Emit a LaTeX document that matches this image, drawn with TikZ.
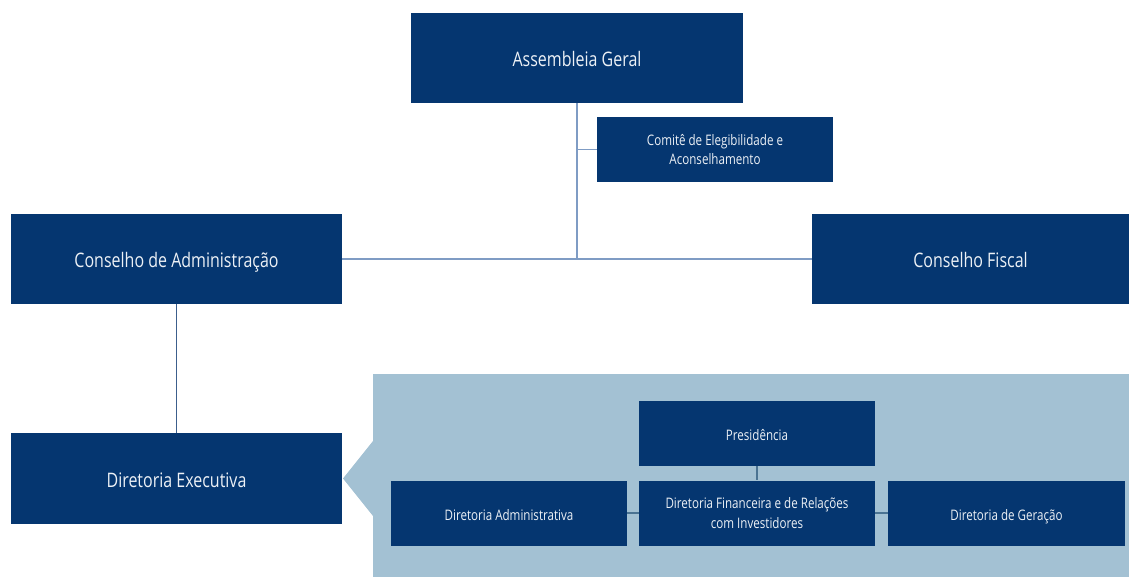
\documentclass[tikz,border=0pt]{standalone}
\usepackage{fontspec}
\newfontfamily\lblfont[FakeStretch=0.8]{Open Sans}
\definecolor{boxblue}{HTML}{053670}
\definecolor{panelblue}{HTML}{A3C1D3}
\definecolor{linelight}{HTML}{7F9CC4}
\definecolor{linedark}{HTML}{3C5E8C}
\definecolor{linepanel}{HTML}{4A7392}
\definecolor{txtcol}{HTML}{EDF1F6}
\begin{document}
\begin{tikzpicture}[x=1pt,y=-1pt,
  box/.style={fill=boxblue, draw=none, text=txtcol, align=center, inner sep=0pt,
    font=\lblfont\fontsize{20}{24}\selectfont, text height=18pt, text depth=0pt},
  bigbox/.style={box, minimum width=331pt, minimum height=90pt},
  smallbox/.style={box, minimum width=236pt, minimum height=65pt,
    font=\lblfont\fontsize{14.5}{19.5}\selectfont, text height=14pt, text depth=0pt},
  twoline/.style={text height=, text depth=},
  conn/.style={draw=linelight, line width=1.2pt},
  conndark/.style={draw=linedark, line width=1.2pt},
  connpanel/.style={draw=linepanel, line width=1.2pt}]
\useasboundingbox (0,0) rectangle (1129,577);
\fill[white] (0,0) rectangle (1129,577);
% panel with pointer
\fill[panelblue] (373,374) -- (1129,374) -- (1129,577) -- (373,577) -- (373,516) -- (343,478.5) -- (373,441) -- cycle;
\node[inner sep=0pt, minimum width=0pt] (panel) at (751,475.5) {};
% top nodes
\node[bigbox, minimum width=332pt] (ag) at (577,58) {Assembleia Geral};
\node[smallbox, twoline] (ce) at (715,149.5) {Comitê de Elegibilidade e\\Aconselhamento};
\node[bigbox] (ca) at (176.5,259) {Conselho de Administração};
\node[bigbox, minimum width=317pt] (cf) at (970.5,259) {Conselho Fiscal};
\node[bigbox, minimum height=91pt] (de) at (176.5,478.5) {Diretoria Executiva};
% panel nodes
\node[smallbox] (pr) at (757,433.5) {Presidência};
\node[smallbox] (da) at (509,513) {Diretoria Administrativa};
\node[smallbox, twoline] (df) at (757,513) {Diretoria Financeira e de Relações\\com Investidores};
\node[smallbox, minimum width=237pt] (dg) at (1006.5,513) {Diretoria de Geração};
% connectors
\draw[conn] (ca.east) -- (cf.west);
\draw[conn] (ag.south) -- (ag.south |- ca.east);
\draw[conn] (ag.south |- ce.west) -- (ce.west);
\draw[conndark] (ca.south) -- (de.north);
\draw[connpanel] (pr.south) -- (df.north);
\draw[connpanel] (da.east) -- (df.west);
\draw[connpanel] (df.east) -- (dg.west);
\end{tikzpicture}
\end{document}
